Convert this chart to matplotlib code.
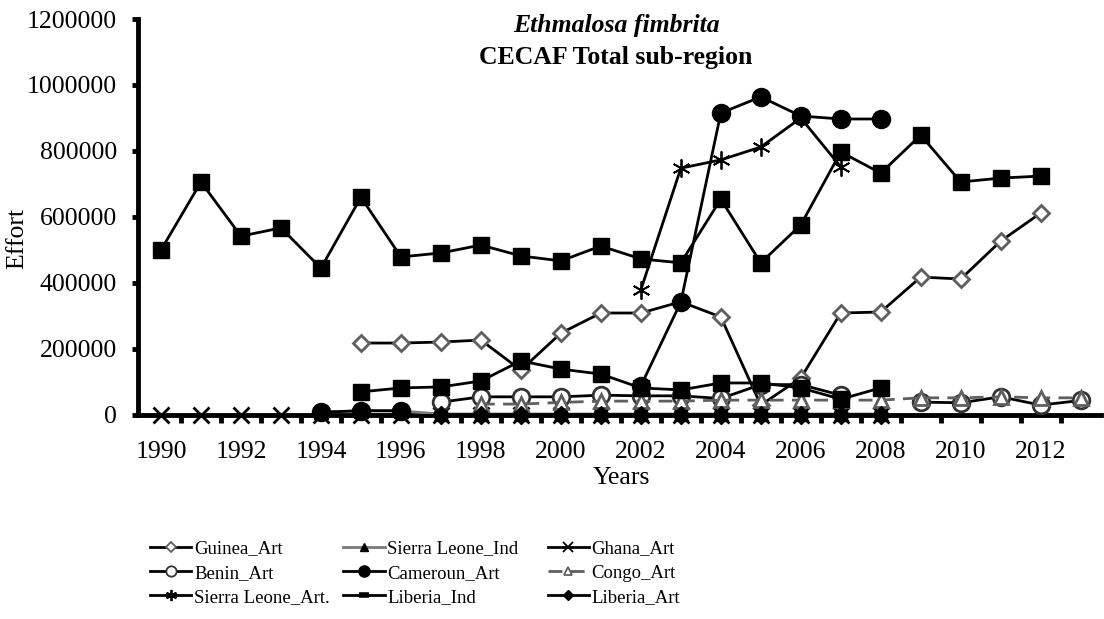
import numpy as np
import matplotlib
matplotlib.use("Agg")
import matplotlib.pyplot as plt
from matplotlib.lines import Line2D

plt.rcParams['font.family'] = ['Liberation Serif', 'DejaVu Serif']

nan = np.nan
years = np.arange(1990, 2014)

# effort by fleet, 1990-2013 (nan = no data)
guinea_art = [nan, nan, nan, nan, nan, 218000, 218000, 221000, 227000, 136000, 248000, 309000,
              309000, 343000, 297000, 30000, 112000, 309000, 312000, 418000, 412000, 527000, 612000, nan]
sleone_ind = [nan, nan, nan, nan, 10000, 12000, 12000, 3000, 3000, 3000, 3000, 3000,
              3000, 3000, 3000, 3000, 3000, 3000, 3000, nan, nan, nan, nan, nan]
ghana_art = [0, 0, 0, 0, 0, 0, 0, 0, 0, 0, 0, 0,
             0, 0, 0, 0, 0, 0, 0, nan, nan, nan, nan, nan]
benin_art = [nan, nan, nan, nan, nan, nan, nan, 39000, 55000, 55000, 55000, 60000,
             58000, 58000, 50000, 92000, 92000, 60000, nan, 39000, 37000, 55000, 30000, 44000]
cameroun_art = [nan, nan, nan, nan, 8000, 13000, 13000, nan, nan, nan, nan, nan,
                88000, 342000, 915000, 964000, 906000, 897000, 897000, nan, nan, nan, nan, nan]
congo_art = [nan, nan, nan, nan, nan, nan, nan, nan, 33000, 33000, 38000, 42000,
             42000, 42000, 45000, 45000, 45000, 45000, 45000, 52000, 52000, 55000, 52000, 52000]
sleone_art = [nan, nan, nan, nan, nan, nan, nan, nan, nan, nan, nan, nan,
              379000, 748000, 773000, 812000, 900000, 752000, nan, nan, nan, nan, nan, nan]
liberia_ind = [nan, nan, nan, nan, nan, nan, nan, 2000, 2000, 2000, 2000, 2000,
               2000, 2000, 2000, 2000, 2000, 2000, 2000, nan, nan, nan, nan, nan]
liberia_art = [nan, nan, nan, nan, nan, nan, nan, 1000, 1000, 1000, 1000, 1000,
               1000, 1000, 1000, 1000, 1000, 1000, 1000, nan, nan, nan, nan, nan]
# two square-marker series that have no legend entry
sq_high = [500000, 706000, 542000, 567000, 445000, 660000, 479000, 491000, 515000, 482000, 467000, 512000,
           473000, 461000, 654000, 461000, 576000, 797000, 733000, 848000, 706000, 718000, 724000, nan]
sq_low = [nan, nan, nan, nan, nan, 70000, 82000, 85000, 103000, 164000, 139000, 124000,
          82000, 76000, 97000, 97000, 82000, 48000, 82000, nan, nan, nan, nan, nan]

grey = '#5f5f5f'
styles = {
    'Guinea_Art': dict(color='black', lw=2, marker='D', ms=8.5, mfc='white', mec=grey, mew=2),
    'Sierra Leone_Ind': dict(color='#7a7a7a', lw=2, marker='^', ms=10, mfc='black', mec='black'),
    'Ghana_Art': dict(color='black', lw=2, marker='x', ms=12, mew=2),
    'Benin_Art': dict(color='black', lw=2, marker='o', ms=12, mfc='white', mec='#333333', mew=2),
    'Cameroun_Art': dict(color='black', lw=2, marker='o', ms=13, mfc='black', mec='black'),
    'Congo_Art': dict(color=grey, lw=2, ls=(0, (5, 3)), marker='^', ms=10, mfc='white', mec=grey, mew=2),
    'Sierra Leone_Art.': dict(color='black', lw=2, marker=(6, 2, 0), ms=13, mew=1.3),
    'Liberia_Ind': dict(color='black', lw=2, marker='_', ms=10, mew=4),
    'Liberia_Art': dict(color='black', lw=2, marker='D', ms=9, mfc='black', mec='black'),
}
series = {
    'Guinea_Art': guinea_art, 'Sierra Leone_Ind': sleone_ind, 'Ghana_Art': ghana_art,
    'Benin_Art': benin_art, 'Cameroun_Art': cameroun_art, 'Congo_Art': congo_art,
    'Sierra Leone_Art.': sleone_art, 'Liberia_Ind': liberia_ind, 'Liberia_Art': liberia_art,
}

fig = plt.figure(figsize=(11.04, 6.19), dpi=100)
ax = fig.add_axes([0.125, 0.3296, 0.872, 0.6397])

for name, vals in series.items():
    ax.plot(years, vals, clip_on=False, zorder=3, **styles[name])
for vals in (sq_high, sq_low):
    ax.plot(years, vals, color='black', lw=2, marker='s', ms=11, mfc='black', mec='black',
            clip_on=False, zorder=3)

ax.set_xlim(1989.425, 2013.5)
ax.set_ylim(0, 1200000)
for s in ('top', 'right'):
    ax.spines[s].set_visible(False)
for s in ('left', 'bottom'):
    ax.spines[s].set_linewidth(3.5)
    ax.spines[s].set_zorder(2)

ax.set_yticks(np.arange(0, 1200001, 200000))
ax.set_yticklabels([str(v) for v in range(0, 1200001, 200000)])
ax.set_xticks(np.arange(1990, 2013, 2))
ax.set_xticks(np.arange(1990.5, 2013.5, 1), minor=True)
ax.tick_params(axis='y', length=4, width=3.5, pad=11, labelsize=18.5)
ax.tick_params(axis='x', which='major', length=0, pad=19, labelsize=18.5)
ax.tick_params(axis='x', which='minor', length=6, width=3.5)

fig.text(0.558, 0.949, 'Ethmalosa fimbrita', ha='center', va='baseline',
         fontsize=18.5, fontweight='bold', fontstyle='italic')
fig.text(0.558, 0.896, 'CECAF Total sub-region', ha='center', va='baseline',
         fontsize=18.5, fontweight='bold')
fig.text(0.016, 0.615, 'Effort', rotation=90, ha='center', va='center', fontsize=18.5)
fig.text(0.563, 0.228, 'Years', ha='center', va='center', fontsize=18.5)

# legend in three columns, filled row by row
cols = [['Guinea_Art', 'Benin_Art', 'Sierra Leone_Art.'],
        ['Sierra Leone_Ind', 'Cameroun_Art', 'Liberia_Ind'],
        ['Ghana_Art', 'Congo_Art', 'Liberia_Art']]
col_x = [0.136, 0.311, 0.496]
for names, x0 in zip(cols, col_x):
    handles = []
    for n in names:
        st = dict(styles[n])
        if st['marker'] == '_':
            st['ms'] = 7
        else:
            st['ms'] = st['ms'] * 0.62
            if 'mew' in st:
                st['mew'] = min(st['mew'], 1.3)
        handles.append(Line2D([], [], **st))
    fig.legend(handles, names, loc='upper left', bbox_to_anchor=(x0, 0.127),
               bbox_transform=fig.transFigure, frameon=False, fontsize=13.5,
               handlelength=2.2, handletextpad=0.15, labelspacing=0.38,
               borderpad=0, borderaxespad=0)

fig.savefig('out.png', dpi=100)
